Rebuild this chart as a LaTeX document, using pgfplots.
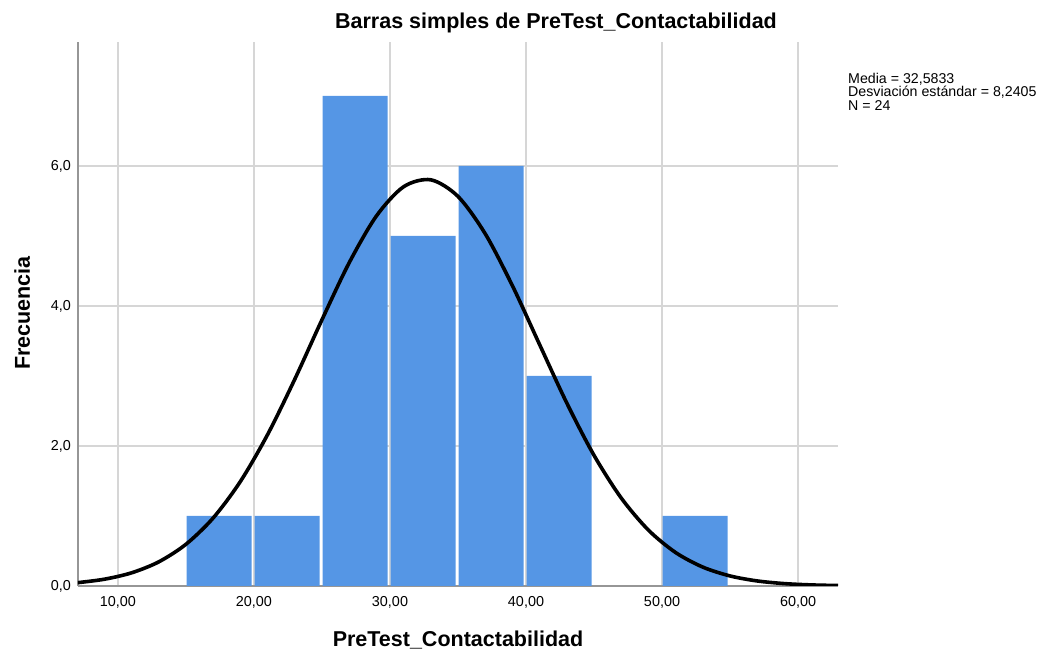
\documentclass[border=0pt]{standalone}
\usepackage{pgfplots}
\pgfplotsset{compat=1.18}
\usepackage{fontspec}
\setmainfont{Liberation Sans}
\definecolor{barblue}{RGB}{85,150,229}
\definecolor{gridgray}{RGB}{214,214,214}
\definecolor{axgray}{RGB}{150,150,150}
\begin{document}
\begin{tikzpicture}
\useasboundingbox (-78pt,-64pt) rectangle (964pt,586pt);
\begin{axis}[
  scale only axis,
  width=760pt, height=544pt,
  xmin=7.06, xmax=62.94, ymin=0, ymax=7.771,
  enlargelimits=false,
  axis x line=bottom, axis y line=left,
  axis line style={-, color=axgray, line width=2pt},
  xtick={10,20,30,40,50,60},
  ytick={0,2,4,6},
  major tick length=0pt,
  grid=major,
  major grid style={color=gridgray, line width=1.6pt},
  /pgf/number format/assume math mode=true,
  xticklabel style={/pgf/number format/fixed, /pgf/number format/fixed zerofill, /pgf/number format/precision=2, /pgf/number format/use comma, anchor=base, yshift=-21pt, inner sep=0pt, font=\fontsize{14.4}{16}\selectfont},
  yticklabel style={/pgf/number format/fixed, /pgf/number format/fixed zerofill, /pgf/number format/precision=1, /pgf/number format/use comma, anchor=east, xshift=-7pt, inner sep=0pt, font=\fontsize{14.4}{16}\selectfont},
]
\addplot[ybar, bar width=4.78, bar shift=-0.8pt, fill=barblue, draw=none] coordinates {
  (17.5,1) (22.5,1) (27.5,7) (32.5,5) (37.5,6) (42.5,3) (52.5,1)
};
\addplot[smooth, black, line width=3.6pt] coordinates {
  (7,0.0469) (9,0.0968) (11,0.1882) (13,0.3449) (15,0.5964) (17,0.9717)
  (19,1.4933) (21,2.1630) (23,2.9543) (25,3.8040) (27,4.6179) (29,5.2853)
  (31,5.7032) (33,5.8020) (35,5.5649) (37,5.0322) (39,4.2900)
  (41,3.4483) (43,2.6131) (45,1.8668) (47,1.2574) (49,0.7986) (51,0.4781)
  (53,0.2699) (55,0.1436) (57,0.0721) (59,0.0341) (61,0.0152) (63,0.0064)
};
\end{axis}
\node[anchor=base, inner sep=0pt, font=\fontsize{21.5}{24}\selectfont\bfseries] at (478pt,557pt) {Barras simples de PreTest\_Contactabilidad};
\node[anchor=base, inner sep=0pt, font=\fontsize{21.5}{24}\selectfont\bfseries] at (380pt,-61pt) {PreTest\_Contactabilidad};
\node[anchor=base, inner sep=0pt, rotate=90, font=\fontsize{21.5}{24}\selectfont\bfseries] at (-48pt,273pt) {Frecuencia};
\node[anchor=base west, inner sep=0pt, font=\fontsize{14.2}{15}\selectfont] at (770pt,502pt) {Media = 32,5833};
\node[anchor=base west, inner sep=0pt, font=\fontsize{14.2}{15}\selectfont] at (770pt,489pt) {Desviación estándar = 8,2405};
\node[anchor=base west, inner sep=0pt, font=\fontsize{14.2}{15}\selectfont] at (770pt,475pt) {N = 24};
\end{tikzpicture}
\end{document}
